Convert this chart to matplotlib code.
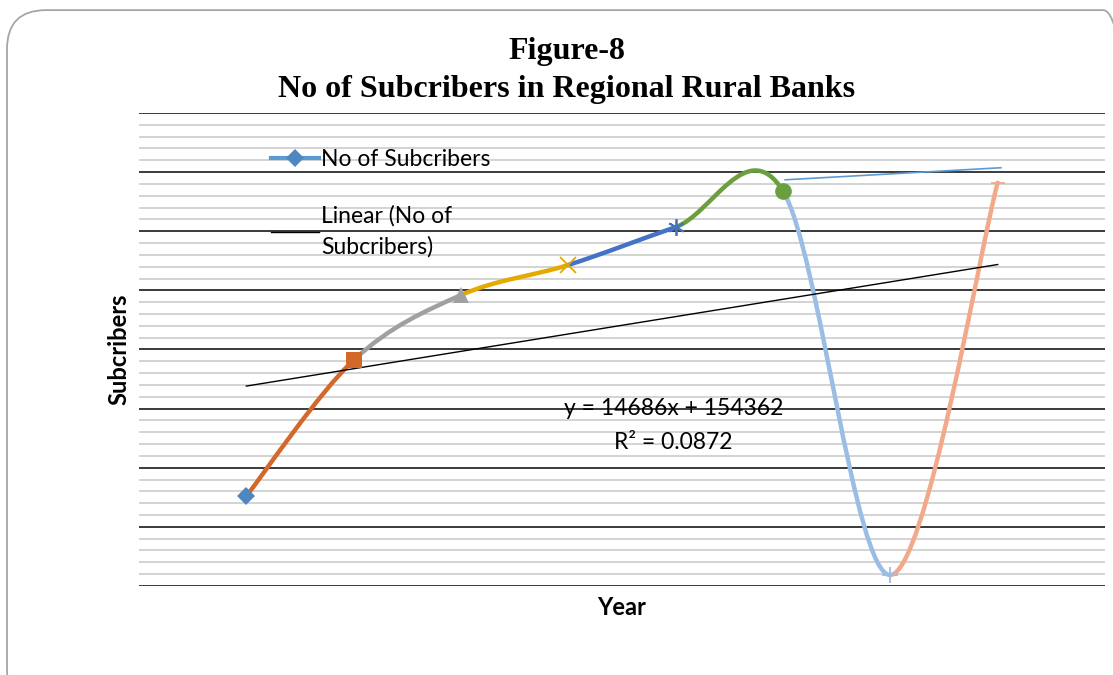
import numpy as np
import matplotlib
matplotlib.use("Agg")
import matplotlib.pyplot as plt
from matplotlib.path import Path
from matplotlib.patches import PathPatch, FancyBboxPatch

# data
years = [1, 2, 3, 4, 5, 6, 7, 8]
subscribers = [76000, 191000, 246000, 271500, 303500, 334000, 9300, 341000]
point_colors = ["#4E87C0", "#D2692A", "#A0A0A0", "#E5AA00",
                "#4472C4", "#6A9F40", "#9ABDE3", "#F2A98A"]
point_markers = ["D", "s", "^", "x", (6, 2, 0), "o", "+", "_"]
marker_sizes = [9, 12, 12, 11, 12, 12, 12, 10]

# trendline as printed on the chart
slope = 14686
intercept = 154362
r_squared = 0.0872

# stray thin blue line near the top right
ghost_x = [6.02, 8.03]
ghost_y = [343500, 353700]

fig = plt.figure(figsize=(11.13, 6.75), dpi=100)
ax = fig.add_axes([0.1249, 0.1319, 0.8679, 0.7007])

# rounded frame around the chart
frame = FancyBboxPatch((0.0063, -0.05), 1.02, 1.035,
                       boxstyle="round,pad=0,rounding_size=0.035",
                       transform=fig.transFigure, fill=False,
                       ec="#A6A6A6", lw=1.3, mutation_aspect=1113/675)
fig.patches.append(frame)

ax.set_xlim(0, 9)
ax.set_ylim(0, 400000)
for v in np.arange(0, 400001, 10000):
    if v % 50000 == 0:
        ax.axhline(v, color="#3A3A3A", lw=1.4, zorder=1)
    else:
        ax.axhline(v, color="#D0D0D0", lw=1.3, zorder=0.5)
for s in ax.spines.values():
    s.set_visible(False)
ax.set_xticks([])
ax.set_yticks([])

# smoothed line, one colour per segment (Excel style bezier)
x = np.array(years, dtype=float)
y = np.array(subscribers, dtype=float)
n = len(x)
for i in range(n - 1):
    p0 = np.array([x[max(i - 1, 0)], y[max(i - 1, 0)]])
    p1 = np.array([x[i], y[i]])
    p2 = np.array([x[i + 1], y[i + 1]])
    p3 = np.array([x[min(i + 2, n - 1)], y[min(i + 2, n - 1)]])
    c1 = p1 + (p2 - p0) / 6
    c2 = p2 - (p3 - p1) / 6
    path = Path([p1, c1, c2, p2],
                [Path.MOVETO, Path.CURVE4, Path.CURVE4, Path.CURVE4])
    ax.add_patch(PathPatch(path, fill=False, ec=point_colors[i + 1],
                           lw=3.2, capstyle="round", zorder=3))

for xi, yi, c, m, ms in zip(x, y, point_colors, point_markers, marker_sizes):
    ax.plot(xi, yi, marker=m, color=c, ms=ms, mew=1.3 if m in ["x", "+", "_", (6, 2, 0)] else 0,
            ls="none", zorder=4)

# trendline
tx = np.array([years[0], years[-1]])
ax.plot(tx, slope * tx + intercept, color="black", lw=1, zorder=3.5)
ax.plot(ghost_x, ghost_y, color="#5B9BD5", lw=1.2, zorder=3)

sans = ["Lato", "DejaVu Sans"]
ax.text(4.98, 150000, f"y = {slope}x + {intercept}", ha="center", va="center",
        family=sans, fontsize=16.5, zorder=5)
ax.text(4.98, 121000, f"R² = {r_squared}", ha="center", va="center",
        family=sans, fontsize=16.5, zorder=5)

# legend
h1, = ax.plot([], [], color="#5B9BD5", lw=3, marker="D", ms=9, mfc="#4E87C0", mew=0)
h2, = ax.plot([], [], color="black", lw=1)
leg = ax.legend([h1, h2], ["No of Subcribers", "Linear (No of\nSubcribers)"],
                loc="upper left", bbox_to_anchor=(0.115, 0.968), frameon=False,
                prop=dict(family=sans, size=16.5),
                handlelength=2.1, labelspacing=1.55, handletextpad=0.1)
leg.get_texts()[1].set_linespacing(1.55)

ax.set_xlabel("Year", family=sans, fontsize=17, fontweight="bold", labelpad=7)
ax.set_ylabel("Subcribers", family=sans, fontsize=17, fontweight="bold", labelpad=6)

fig.text(0.509, 0.896, "Figure-8\nNo of Subcribers in Regional Rural Banks",
         ha="center", va="center", family="Liberation Serif", fontweight="bold",
         fontsize=23, linespacing=1.4)

fig.savefig("out.png", dpi=100)
